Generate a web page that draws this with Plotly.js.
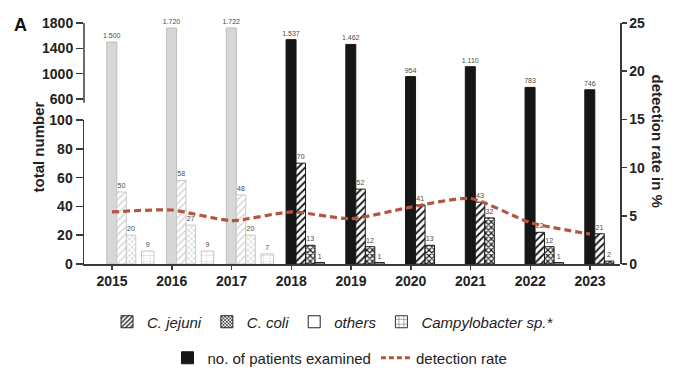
<!DOCTYPE html>
<html>
<head>
<meta charset="utf-8">
<script src="https://cdn.plot.ly/plotly-3.0.1.min.js"></script>
<style>
  html, body { margin: 0; padding: 0; background: #fff; }
  #chart { width: 678px; height: 370px; }
</style>
</head>
<body>
<div id="chart"></div>
<script>
// Campylobacter findings per year, patients examined and detection rate
const YEARS = ['2015', '2016', '2017', '2018', '2019', '2020', '2021', '2022', '2023'];
const PATIENTS = [1500, 1720, 1722, 1537, 1462, 954, 1110, 783, 746];
const C_JEJUNI = [50, 58, 48, 70, 52, 41, 43, 22, 21];
const C_COLI = [20, 27, 20, 13, 12, 13, 32, 12, 2];
const OTHERS = [null, null, null, 1, 1, null, null, 1, null];
const CAMPY_SP = [9, 9, 7, null, null, null, null, null, null];
const DETECTION_RATE = [5.4, 5.6, 4.5, 5.4, 4.7, 5.9, 6.8, 4.3, 3.1];
// the first three years come from the earlier survey and are drawn in grey
const EARLY_YEARS = ['2015', '2016', '2017'];

// plot box in pixels (left, right, top, bottom) and the break between the two left scales
const BOX = { l: 84, r: 620, t: 23, b: 264 };
const BREAK_PX = 120;
const PX_PER_CAT = (590 - 112) / 8;
const X_RANGE = [-(112 - BOX.l) / PX_PER_CAT, 8 + (BOX.r - 590) / PX_PER_CAT];
const H = BOX.b - BOX.t;
const W = BOX.r - BOX.l;
const LOWER_TOP = (BOX.b - BREAK_PX) / H;
// upper scale: 600 at y=99px, 1800 at the top of the box
const UP_PER_PX = 1200 / (99 - BOX.t);
const UPPER_RANGE = [600 - (BREAK_PX - 99) * UP_PER_PX, 1800];

const xp = p => (p - BOX.l) / W;
const yp = p => (BOX.b - p) / H;
const cat = p => p / PX_PER_CAT;   // pixel offset -> category units

const isEarly = YEARS.map(y => EARLY_YEARS.includes(y));
const pick = (early, late) => isEarly.map(e => (e ? early : late));
const label = v => (v == null ? '' : String(v));
const thousands = v => (v >= 1000 ? Math.floor(v / 1000) + '.' + String(v % 1000).padStart(3, '0') : String(v));

const FONT = 'Liberation Sans, Arial, sans-serif';
const AXIS_COLOR = '#3a3a3a';
const LABEL_FONT = { family: FONT, size: 7, color: '#4a4a4a' };
const RATE_COLOR = '#b4553d';

const barCommon = {
  type: 'bar',
  xaxis: 'x',
  textposition: 'outside',
  cliponaxis: false,
  constraintext: 'none',
  textfont: LABEL_FONT,
  hoverinfo: 'skip',
  showlegend: false
};

const patientStyle = {
  color: pick('#d7d7d7', '#161616'),
  line: { color: pick('#bdbdbd', '#161616'), width: 1 }
};
const jejuniStyle = {
  color: '#ffffff',
  line: { color: pick('#c9c9c9', '#1a1a1a'), width: 1 },
  pattern: { shape: '/', fgcolor: pick('#cfcfcf', '#1a1a1a'), bgcolor: '#ffffff', size: 5, solidity: pick(0.25, 0.38) }
};
const coliStyle = {
  color: '#ffffff',
  line: { color: pick('#c9c9c9', '#1a1a1a'), width: 1 },
  pattern: { shape: 'x', fgcolor: pick('#d2d2d2', '#1a1a1a'), bgcolor: '#ffffff', size: 4, solidity: pick(0.35, 0.5) }
};
const othersStyle = { color: '#ffffff', line: { color: '#1a1a1a', width: 1 } };
const spStyle = {
  color: '#ffffff',
  line: { color: '#c4c4c4', width: 1 },
  pattern: { shape: '+', fgcolor: '#c4c4c4', bgcolor: '#ffffff', size: 6.3, solidity: 0.12 }
};

const SLOTS = {
  patients: { offset: cat(-5.2), width: cat(10) },
  jejuni: { offset: cat(4.8), width: cat(9.5) },
  coli: { offset: cat(14.3), width: cat(9.5) },
  others: { offset: cat(23.8), width: cat(9.5) },
  sp: { offset: cat(29.5), width: cat(12.5) }
};

const traces = [
  // patients: lower part of the broken scale (clipped at 100) and upper part
  Object.assign({}, barCommon, SLOTS.patients, {
    x: YEARS, y: PATIENTS, yaxis: 'y', marker: patientStyle, textposition: 'none'
  }),
  Object.assign({}, barCommon, SLOTS.patients, {
    x: YEARS, y: PATIENTS, yaxis: 'y2', marker: patientStyle, text: PATIENTS.map(thousands)
  }),
  Object.assign({}, barCommon, SLOTS.jejuni, {
    x: YEARS, y: C_JEJUNI, yaxis: 'y', marker: jejuniStyle, text: C_JEJUNI.map(label)
  }),
  Object.assign({}, barCommon, SLOTS.coli, {
    x: YEARS, y: C_COLI, yaxis: 'y', marker: coliStyle, text: C_COLI.map(label)
  }),
  Object.assign({}, barCommon, SLOTS.others, {
    x: YEARS, y: OTHERS, yaxis: 'y', marker: othersStyle, text: OTHERS.map(label)
  }),
  Object.assign({}, barCommon, SLOTS.sp, {
    x: YEARS, y: CAMPY_SP, yaxis: 'y', marker: spStyle, text: CAMPY_SP.map(label)
  }),
  // detection rate on the right-hand scale
  {
    type: 'scatter', mode: 'lines', x: YEARS, y: DETECTION_RATE,
    xaxis: 'x2', yaxis: 'y3',
    line: { color: RATE_COLOR, width: 3.2, dash: '7px,4px', shape: 'spline', smoothing: 0.6 },
    hoverinfo: 'skip', showlegend: false
  }
];

// legend keys (a single empty point each, so nothing is drawn in the plot)
const key = (name, marker, legend) => ({
  type: 'bar', x: [YEARS[0]], y: [null], name, marker, xaxis: 'x', yaxis: 'y', legend,
  showlegend: true, hoverinfo: 'skip'
});
traces.push(
  key('C. jejuni', { color: '#fff', line: { color: '#222', width: 1 }, pattern: { shape: '/', fgcolor: '#222', bgcolor: '#fff', size: 4, solidity: 0.4 } }, 'legend'),
  key('C. coli', { color: '#fff', line: { color: '#222', width: 1 }, pattern: { shape: 'x', fgcolor: '#222', bgcolor: '#fff', size: 3, solidity: 0.5 } }, 'legend'),
  key('others', { color: '#fff', line: { color: '#222', width: 1 } }, 'legend'),
  key('Campylobacter sp.*', { color: '#fff', line: { color: '#333', width: 1 }, pattern: { shape: '+', fgcolor: '#333', bgcolor: '#fff', size: 6, solidity: 0.15 } }, 'legend'),
  key('no. of patients examined', { color: '#161616', line: { color: '#161616', width: 1 } }, 'legend2'),
  {
    type: 'scatter', mode: 'lines', x: [YEARS[0]], y: [null], name: 'detection rate',
    xaxis: 'x2', yaxis: 'y3', legend: 'legend2', showlegend: true, hoverinfo: 'skip',
    line: { color: RATE_COLOR, width: 3, dash: '5px,3px' }
  }
);

const tickFont = { family: FONT, size: 14, color: '#222', weight: 'bold' };
const yCommon = {
  showgrid: false, zeroline: false, ticks: 'outside', ticklen: 7, tickwidth: 1.5,
  tickcolor: AXIS_COLOR, linecolor: AXIS_COLOR, linewidth: 1.5, tickfont: tickFont,
  fixedrange: true
};

const layout = {
  width: 678, height: 370,
  margin: { l: BOX.l, r: 678 - BOX.r, t: BOX.t, b: 370 - BOX.b, pad: 0, autoexpand: false },
  paper_bgcolor: '#fff', plot_bgcolor: 'rgba(0,0,0,0)',
  font: { family: FONT, color: '#222' },
  barmode: 'overlay',
  xaxis: {
    type: 'category', domain: [0, 1], anchor: 'y', range: X_RANGE,
    showgrid: false, zeroline: false, showline: true, linecolor: AXIS_COLOR, linewidth: 1.5,
    ticks: 'outside', ticklen: 4, tickwidth: 1.5, tickcolor: AXIS_COLOR, tickfont: tickFont,
    fixedrange: true
  },
  xaxis2: {
    type: 'category', domain: [0, 1], anchor: 'y3', range: X_RANGE, visible: false, fixedrange: true
  },
  yaxis: Object.assign({}, yCommon, {
    domain: [0, LOWER_TOP], anchor: 'x', range: [0, 100], showline: true,
    tickmode: 'array', tickvals: [0, 20, 40, 60, 80, 100]
  }),
  yaxis2: Object.assign({}, yCommon, {
    domain: [LOWER_TOP, 1], anchor: 'x', range: UPPER_RANGE, showline: false,
    tickmode: 'array', tickvals: [600, 1000, 1400, 1800]
  }),
  yaxis3: Object.assign({}, yCommon, {
    domain: [0, 1], anchor: 'x2', side: 'right', range: [0, 25], showline: true,
    ticklen: 5, tickmode: 'array', tickvals: [0, 5, 10, 15, 20, 25]
  }),
  shapes: [
    // axis line of the upper (600-1800) scale, stopping short of the break
    { type: 'line', xref: 'paper', yref: 'y2', x0: 0, x1: 0, y0: 540, y1: 1800,
      line: { color: AXIS_COLOR, width: 1.5 } }
  ],
  legend: {
    orientation: 'h', xanchor: 'center', yanchor: 'middle', x: xp(333), y: yp(322),
    font: { family: FONT, size: 15, color: '#222', style: 'italic' },
    bgcolor: 'rgba(0,0,0,0)', traceorder: 'normal'
  },
  legend2: {
    orientation: 'h', xanchor: 'center', yanchor: 'middle', x: xp(340), y: yp(358),
    font: { family: FONT, size: 15, color: '#222' },
    bgcolor: 'rgba(0,0,0,0)', traceorder: 'normal'
  },
  annotations: [
    { text: 'A', xref: 'paper', yref: 'paper', x: xp(12), y: yp(13), showarrow: false,
      font: { family: FONT, size: 18, color: '#111', weight: 'bold' } },
    { text: 'total number', xref: 'paper', yref: 'paper', x: xp(27), y: yp(147), textangle: -90,
      showarrow: false, font: { family: FONT, size: 15, color: '#222', weight: 'bold' } },
    { text: 'detection rate in %', xref: 'paper', yref: 'paper', x: xp(668), y: yp(141), textangle: 90,
      showarrow: false, font: { family: FONT, size: 15, color: '#222', weight: 'bold' } }
  ],
  showlegend: true
};

Plotly.newPlot('chart', traces, layout, { displayModeBar: false, staticPlot: true });
</script>
</body>
</html>
